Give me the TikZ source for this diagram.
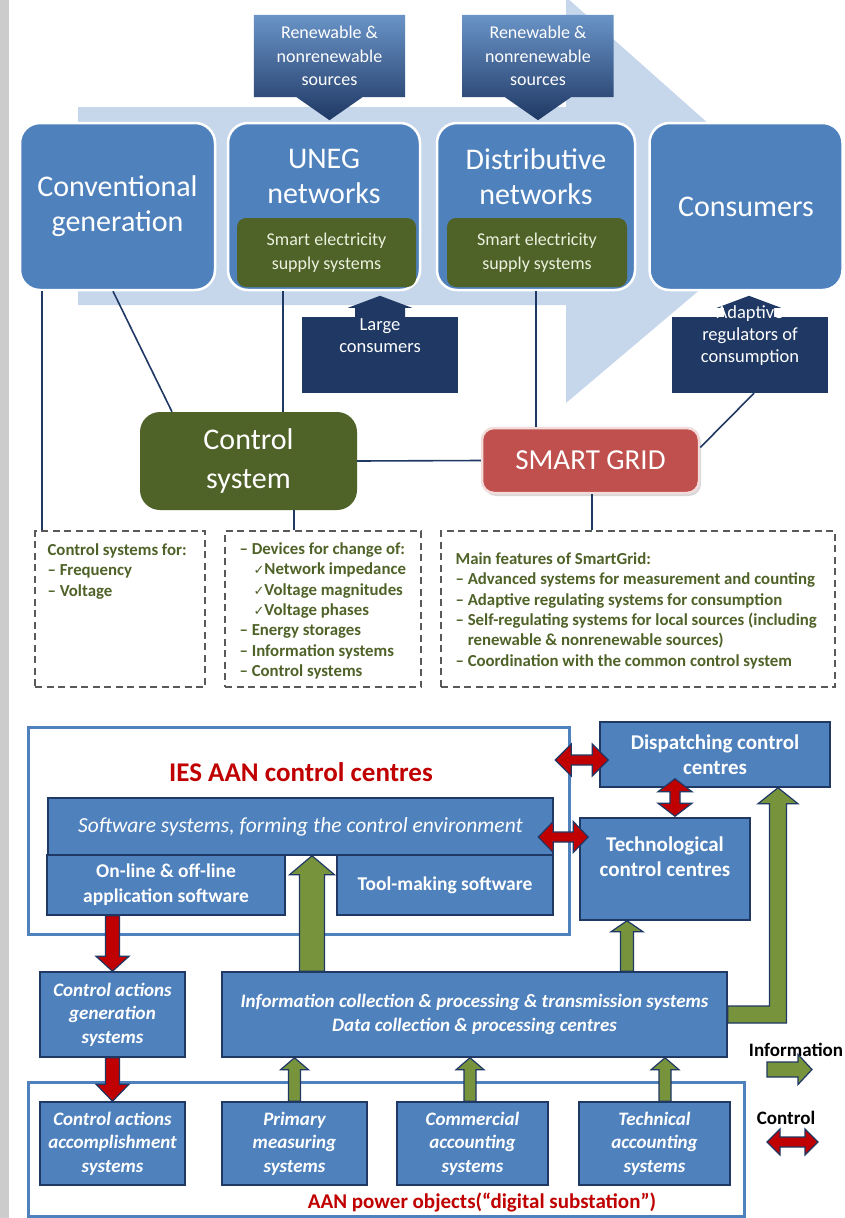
\documentclass[tikz,border=0pt]{standalone}
\usepackage{fontspec}
\setmainfont{Carlito}
\newfontfamily\chkfont{DejaVu Sans}
\usepackage{xcolor}
\usepackage{tikz}
\usetikzlibrary{arrows.meta, positioning, calc, shadows}

\definecolor{mblue}{HTML}{4F81BD}
\definecolor{navy}{HTML}{1F3864}
\definecolor{dgreen}{HTML}{4F6228}
\definecolor{sgred}{HTML}{C0504D}
\definecolor{sgrim}{HTML}{F2DCDB}
\definecolor{lightarr}{HTML}{C6D7EC}
\definecolor{arrgreen}{HTML}{77933C}
\definecolor{arrred}{HTML}{C00000}
\definecolor{olive}{HTML}{4F6228}
\definecolor{palegreen}{HTML}{EBF1DE}
\definecolor{dashgrey}{HTML}{595959}

\pgfdeclarelayer{back}
\pgfsetlayers{back,main}

\newcommand{\chk}{{\chkfont\mdseries\fontsize{13}{13}\selectfont ✓}}

\tikzset{
  fatshaft/.store in=\fatsw, fathead/.store in=\fathw, fatlen/.store in=\fathl,
  fatshaft=6pt, fathead=14pt, fatlen=12pt,
  fat/.style={to path={
    let \p1=(\tikztostart), \p2=(\tikztotarget),
        \n1={atan2(\y2-\y1,\x2-\x1)} in
    ($(\p1)+({\n1+90}:\fatsw)$) -- ($(\p2)+({\n1+180}:\fathl)+({\n1+90}:\fatsw)$)
    -- ($(\p2)+({\n1+180}:\fathl)+({\n1+90}:\fathw)$) -- (\p2)
    -- ($(\p2)+({\n1+180}:\fathl)+({\n1-90}:\fathw)$)
    -- ($(\p2)+({\n1+180}:\fathl)+({\n1-90}:\fatsw)$)
    -- ($(\p1)+({\n1-90}:\fatsw)$) -- cycle}},
  fatdbl/.style={to path={
    let \p1=(\tikztostart), \p2=(\tikztotarget),
        \n1={atan2(\y2-\y1,\x2-\x1)} in
    (\p1) -- ($(\p1)+(\n1:\fathl)+({\n1+90}:\fathw)$)
    -- ($(\p1)+(\n1:\fathl)+({\n1+90}:\fatsw)$)
    -- ($(\p2)+({\n1+180}:\fathl)+({\n1+90}:\fatsw)$)
    -- ($(\p2)+({\n1+180}:\fathl)+({\n1+90}:\fathw)$) -- (\p2)
    -- ($(\p2)+({\n1+180}:\fathl)+({\n1-90}:\fathw)$)
    -- ($(\p2)+({\n1+180}:\fathl)+({\n1-90}:\fatsw)$)
    -- ($(\p1)+(\n1:\fathl)+({\n1-90}:\fatsw)$)
    -- ($(\p1)+(\n1:\fathl)+({\n1-90}:\fathw)$) -- cycle}},
}

\begin{document}
\begin{tikzpicture}[
    x=1pt, y=-1pt,
    bigbox/.style={draw=white, line width=2.5pt, fill=mblue, rounded corners=20pt,
                   text=white, align=center, inner sep=0pt,
                   font=\fontsize{30}{35}\selectfont},
    bigtxt/.style={text=white, align=center, inner sep=0pt,
                   font=\fontsize{30}{35}\selectfont},
    smartbox/.style={fill=dgreen, rounded corners=9pt, text=palegreen, align=center,
                     inner sep=0pt, minimum height=69pt,
                     font=\fontsize{18}{23.5}\selectfont},
    srcbox/.style={text=white, align=center, inner sep=0pt, minimum width=151pt,
                   minimum height=82pt, font=\fontsize{18}{23.5}\selectfont},
    srcshade/.style={top color=mblue!85!white, bottom color=navy},
    callout/.style={fill=navy, minimum width=156pt, minimum height=76pt, inner sep=0pt},
    callouttxt/.style={text=white, align=center, inner sep=0pt,
                       font=\fontsize{18.5}{22}\selectfont},
    ctrlbox/.style={fill=dgreen, rounded corners=20pt, text=white, align=center,
                    inner sep=0pt, minimum width=217pt, minimum height=98pt,
                    font=\fontsize{30}{39}\selectfont},
    gridbox/.style={fill=sgred, draw=sgrim, line width=2.5pt, rounded corners=12pt,
                    text=white, inner sep=0pt, minimum width=217pt, minimum height=65pt,
                    font=\fontsize{29}{30}\selectfont,
                    drop shadow={shadow xshift=2pt, shadow yshift=-3pt, fill=black!30}},
    feat/.style={draw=dashgrey, line width=1.2pt, dash pattern=on 7pt off 4.5pt,
                 minimum height=156pt, inner sep=0pt},
    featxt/.style={text=olive, align=left, inner sep=0pt, anchor=north west,
                   font=\fontsize{16.8}{20.4}\selectfont\bfseries},
    link/.style={draw=navy, line width=1.6pt},
    frame/.style={draw=mblue, line width=3pt, fill=white, inner sep=0pt},
    title/.style={text=arrred, inner sep=0pt, font=\fontsize{27}{30}\selectfont\bfseries},
    blk/.style={draw=navy, line width=1.5pt, fill=mblue, text=white, align=center,
                inner sep=0pt, font=\fontsize{19.5}{25}\selectfont\bfseries},
    blkit/.style={blk, font=\fontsize{19}{23.5}\selectfont\bfseries\itshape},
    blktxt/.style={text=white, align=center, inner sep=0pt,
                   font=\fontsize{21}{25}\selectfont\bfseries},
    legtxt/.style={text=black, inner sep=0pt, font=\fontsize{19}{22}\selectfont\bfseries},
    infoarr/.style={fat, draw=navy, line width=1.2pt, fill=arrgreen},
    downarr/.style={fat, draw=navy, line width=1.2pt, fill=arrred},
    ctrlarr/.style={fatdbl, draw=navy, line width=1.2pt, fill=arrred},
  ]

  \useasboundingbox (0,0) rectangle (844,1218);
  \begin{pgfonlayer}{back}
    \fill[white] (0,0) rectangle (844,1218);
    \fill[gray!40] (0,0) rectangle (9,1218);
    \fill[lightarr] (78,107) -- (566,107) -- (566,-3) -- (800,205) -- (566,403)
      -- (566,305) -- (78,305) -- cycle;
  \end{pgfonlayer}

  \node[srcbox] (srcA) at (329.5,56) {Renewable \&\\nonrenewable\\sources};
  \node[srcbox] (srcB) at (538,56) {Renewable \&\\nonrenewable\\sources};
  \begin{pgfonlayer}{back}
    \foreach \s in {srcA,srcB}
      \shade[srcshade] (\s.north west) -- (\s.north east) -- (\s.south east)
        -- ([xshift=33pt]\s.south) -- ([yshift=-23pt]\s.south)
        -- ([xshift=-33pt]\s.south) -- (\s.south west) -- cycle;
  \end{pgfonlayer}

  \node[bigbox, minimum width=195pt, minimum height=167pt] (conv) at (117.5,206.5)
    {Conventional\\generation};
  \node[bigbox, minimum width=192pt, minimum height=167pt] (uneg) at (324,206.5) {};
  \node[bigtxt] (unegtxt) at ([yshift=-54.5pt]uneg.north) {UNEG\\networks};
  \node[smartbox, minimum width=179pt] (unegsmart) at (326.5,252.5)
    {Smart electricity\\supply systems};
  \node[bigbox, minimum width=198pt, minimum height=167pt] (dist) at (536,206.5) {};
  \node[bigtxt] (disttxt) at ([yshift=-54.5pt]dist.north) {Distributive\\networks};
  \node[smartbox, minimum width=180pt] (distsmart) at (537,252.5)
    {Smart electricity\\supply systems};
  \node[bigbox, minimum width=193pt, minimum height=167pt] (cons) at (746,206.5)
    {Consumers};

  \node[callout] (large) at (380,355) {};
  \node[callout] (adapt) at (750,355) {};
  \foreach \c/\dx in {large/0, adapt/-1}
    \fill[navy] ([xshift=\dx pt-25pt,yshift=-1pt]\c.north) -- ++(0,-10) -- ++(-7,0)
      -- ++(32,-12) -- ++(32,12) -- ++(-7,0) -- ++(0,10) -- cycle;
  \node[callouttxt] (largetxt) at ([yshift=-18.5pt]large.north) {Large\\consumers};
  \node[callouttxt] (adapttxt) at ([yshift=-18.5pt]adapt.north)
    {Adaptive\\regulators of\\consumption};

  \node[ctrlbox] (ctrl) at (248.5,461) {Control\\system};
  \node[gridbox] (grid) at (590.5,460.5) {SMART GRID};

  \node[feat, minimum width=170pt] (featA) at (120,609) {};
  \node[feat, minimum width=196pt] (featB) at (323,609) {};
  \node[feat, minimum width=394pt] (featC) at (638,609) {};
  \node[featxt] (featAtxt) at ([xshift=13pt,yshift=-13pt]featA.north west)
    {Control systems for:\\\textendash{} Frequency\\\textendash{} Voltage};
  \node[featxt] (featBtxt) at ([xshift=15pt,yshift=-12pt]featB.north west)
    {\textendash{} Devices for change of:\\
     \hspace{14pt}\chk Network impedance\\
     \hspace{14pt}\chk Voltage magnitudes\\
     \hspace{14pt}\chk Voltage phases\\
     \textendash{} Energy storages\\
     \textendash{} Information systems\\
     \textendash{} Control systems};
  \node[featxt] (featCtxt) at ([xshift=15pt,yshift=-22pt]featC.north west)
    {Main features of SmartGrid:\\
     \textendash{} Advanced systems for measurement and counting\\
     \textendash{} Adaptive regulating systems for consumption\\
     \textendash{} Self-regulating systems for local sources (including\\
     \phantom{\textendash{} }renewable \& nonrenewable sources)\\
     \textendash{} Coordination with the common control system};

  \draw[link] ([xshift=23pt]conv.south west) -- ([xshift=23pt]conv.south west |- featA.north);
  \draw[link] ([xshift=-4.5pt]conv.south) -- ([xshift=-76.5pt]ctrl.north);
  \draw[link] ([xshift=-41pt]uneg.south) -- ([xshift=-41pt]uneg.south |- ctrl.north);
  \draw[link] (ctrl.east) -- (grid.west);
  \draw[link] (dist.south) -- (dist.south |- grid.north);
  \draw[link] ([xshift=4pt]adapt.south) -- ([yshift=13pt]grid.east);
  \draw[link] ([xshift=45.5pt]ctrl.south) -- ([xshift=45.5pt]ctrl.south |- featB.north);
  \draw[link] ([xshift=1.5pt]grid.south) -- ([xshift=1.5pt]grid.south |- featC.north);

  \node[frame, minimum width=541pt, minimum height=207pt] (ies) at (298.5,830.5) {};
  \node[title] (iestitle) at (301,772) {IES AAN control centres};
  \node[blk, minimum width=505pt, minimum height=57pt,
        font=\fontsize{21.5}{24}\selectfont\itshape] (soft) at (300.5,826.5)
    {Software systems, forming the control environment};
  \node[blk, minimum width=238pt, minimum height=60pt] (online) at (166,885)
    {On-line \& off-line\\application software};
  \node[blk, minimum width=216pt, minimum height=60pt] (tool) at (445,885)
    {Tool-making software};
  \node[blk, minimum width=230pt, minimum height=65pt,
        font=\fontsize{21}{25}\selectfont\bfseries] (disp) at (715,754.5)
    {Dispatching control\\centres};
  \node[blk, minimum width=170pt, minimum height=102pt] (tech) at (665,869) {};
  \node[blktxt] (techtxt) at ([yshift=12pt]tech.center) {Technological\\control centres};

  \node[blkit, minimum width=145pt, minimum height=85pt] (gen) at (112.5,1014.5)
    {Control actions\\generation\\systems};
  \node[blkit, minimum width=505pt, minimum height=85pt] (info) at (474.5,1014.5)
    {Information collection \& processing \& transmission systems\\
     Data collection \& processing centres};

  \node[frame, minimum width=716pt, minimum height=134pt] (power) at (386,1149) {};
  \node[blkit, minimum width=145pt, minimum height=83pt] (acc) at (112.5,1143.5)
    {Control actions\\accomplishment\\systems};
  \node[blkit, minimum width=145pt, minimum height=83pt] (prim) at (294.5,1143.5)
    {Primary\\measuring\\systems};
  \node[blkit, minimum width=151pt, minimum height=83pt] (comm) at (472.5,1143.5)
    {Commercial\\accounting\\systems};
  \node[blkit, minimum width=151pt, minimum height=83pt] (techacc) at (654.5,1143.5)
    {Technical\\accounting\\systems};
  \node[title, font=\fontsize{21}{24}\selectfont\bfseries] (powertitle) at (482,1202)
    {AAN power objects(“digital substation”)};

  \draw[infoarr, fatshaft=12.5pt, fathead=22.5pt, fatlen=19pt]
    ([xshift=-162.5pt]info.north) to ([xshift=-162.5pt]info.north |- soft.south);
  \draw[infoarr, fatshaft=6.5pt, fathead=16pt, fatlen=11pt]
    ([xshift=-38pt]tech.south |- info.north) to ([xshift=-38pt]tech.south);
  \draw[infoarr] (prim.north) to (prim.north |- info.south);
  \draw[infoarr] ([xshift=-2.5pt]comm.north) to ([xshift=-2.5pt]comm.north |- info.south);
  \draw[infoarr] ([xshift=10.5pt]techacc.north) to ([xshift=10.5pt]techacc.north |- info.south);
  \draw[draw=navy, line width=1.2pt, fill=arrgreen]
    let \p1=(info.east), \p2=([xshift=63pt]disp.south) in
    (\x1,\y1+8.5pt) -- (\x2-8.5pt,\y1+8.5pt) -- (\x2-8.5pt,\y2-16pt) -- (\x2-20pt,\y2-16pt)
    -- (\p2) -- (\x2+20pt,\y2-16pt) -- (\x2+8.5pt,\y2-16pt) -- (\x2+8.5pt,\y1-8.5pt)
    -- (\x1,\y1-8.5pt) -- cycle;

  \draw[downarr, fatshaft=7pt, fathead=16.5pt, fatlen=15pt]
    (gen.north |- online.south) to (gen.north);
  \draw[downarr, fatshaft=7pt, fathead=16.5pt, fatlen=17pt] (gen.south) to (acc.north);
  \draw[ctrlarr, fatshaft=5pt, fathead=16pt, fatlen=16pt]
    ([xshift=-44pt,yshift=-5.5pt]disp.west) to ([xshift=9pt,yshift=-5.5pt]disp.west);
  \draw[ctrlarr, fatshaft=5pt, fathead=15.5pt, fatlen=15pt]
    ([xshift=-41pt,yshift=32pt]tech.west) to ([xshift=9pt,yshift=32pt]tech.west);
  \draw[ctrlarr, fatshaft=5pt, fathead=17pt, fatlen=13pt]
    ([xshift=-40pt,yshift=9pt]disp.south) to ([xshift=10pt,yshift=1pt]tech.north);

  \node[legtxt] (legInfo) at (796,1050) {Information};
  \coordinate (legInfoA) at (767,1069.5);
  \coordinate (legInfoB) at (812,1069.5);
  \draw[infoarr, fatshaft=7.5pt, fathead=15pt, fatlen=14pt] (legInfoA) to (legInfoB);
  \node[legtxt] (legCtrl) at (786,1118) {Control};
  \coordinate (legCtrlA) at (767,1142);
  \coordinate (legCtrlB) at (818,1142);
  \draw[ctrlarr, fatshaft=5pt, fathead=13pt, fatlen=13pt] (legCtrlA) to (legCtrlB);
\end{tikzpicture}
\end{document}
